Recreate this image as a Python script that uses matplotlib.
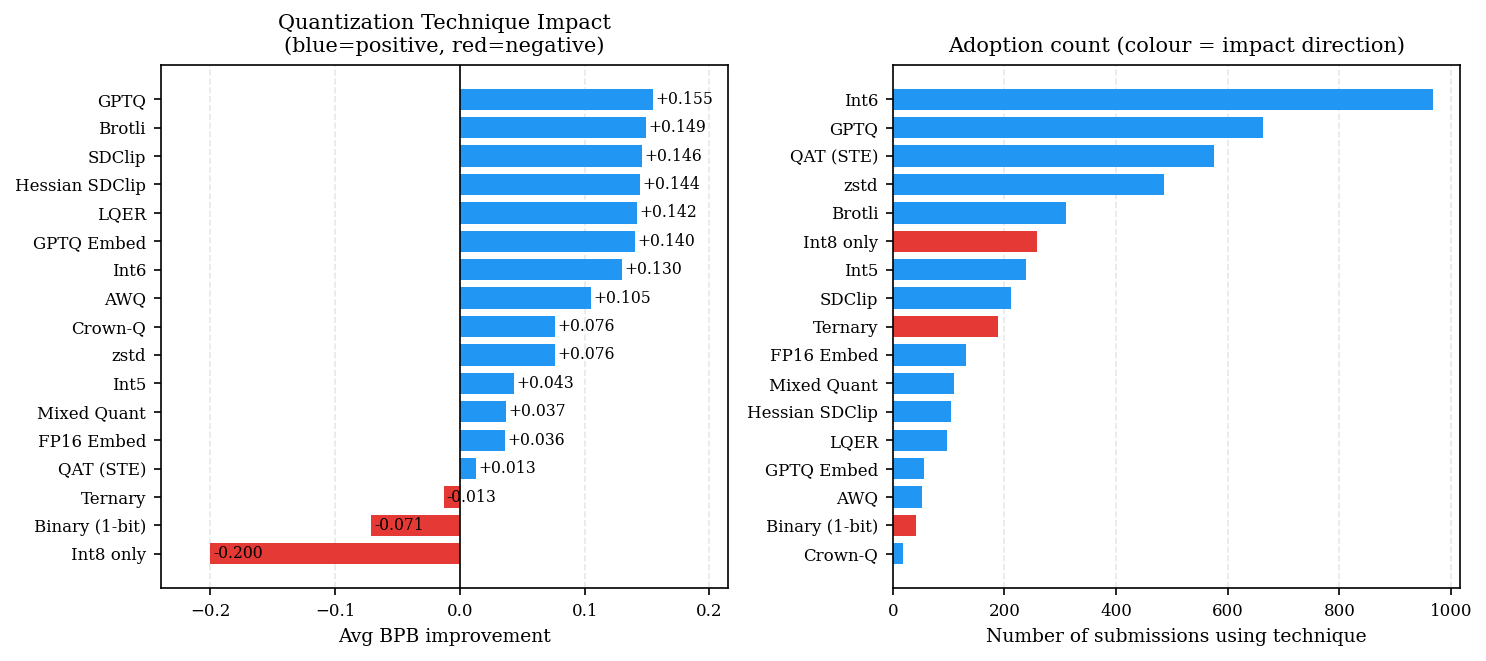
import numpy as np
import matplotlib
matplotlib.use("Agg")
import matplotlib.pyplot as plt

plt.rcParams.update({
    "font.family": "serif",
    "font.serif": ["DejaVu Serif"],
    "font.size": 8,
    "axes.titlesize": 10,
    "axes.labelsize": 9,
    "xtick.labelsize": 8,
    "ytick.labelsize": 8,
})

BLUE = "#2196F3"
RED = "#E53935"

# impact (avg BPB improvement), bottom -> top
impact_names = ["Int8 only", "Binary (1-bit)", "Ternary", "QAT (STE)", "FP16 Embed",
                "Mixed Quant", "Int5", "zstd", "Crown-Q", "AWQ", "Int6", "GPTQ Embed",
                "LQER", "Hessian SDClip", "SDClip", "Brotli", "GPTQ"]
impact_vals = [-0.200, -0.071, -0.013, 0.013, 0.036, 0.037, 0.043, 0.076, 0.076,
               0.105, 0.130, 0.140, 0.142, 0.144, 0.146, 0.149, 0.155]

# adoption count, bottom -> top
count_names = ["Crown-Q", "Binary (1-bit)", "AWQ", "GPTQ Embed", "LQER", "Hessian SDClip",
               "Mixed Quant", "FP16 Embed", "Ternary", "SDClip", "Int5", "Int8 only",
               "Brotli", "zstd", "QAT (STE)", "GPTQ", "Int6"]
count_vals = [18, 41, 53, 56, 97, 104, 110, 131, 189, 212, 239, 259, 311, 486, 575, 664, 968]

impact_lookup = dict(zip(impact_names, impact_vals))

fig, axs = plt.subplots(1, 2, figsize=(14.87 / 1.5, 6.61 / 1.5), dpi=150)

# --- impact ---
ax = axs[0]
y = np.arange(len(impact_names))
cols = [BLUE if v > 0 else RED for v in impact_vals]
ax.barh(y, impact_vals, color=cols, height=0.75)
ax.axvline(0, color="black", linewidth=0.8)
for yi, v in zip(y, impact_vals):
    ax.text(v + 0.002, yi, f"{v:+.3f}" if v > 0 else f"{v:.3f}",
            va="center", ha="left", fontsize=7.5)
ax.set_yticks(y)
ax.set_yticklabels(impact_names)
ax.set_xlim(min(impact_vals) - 0.04, max(impact_vals) + 0.06)
ax.set_xlabel("Avg BPB improvement")
ax.set_title("Quantization Technique Impact\n(blue=positive, red=negative)")
ax.grid(axis="x", linestyle="--", alpha=0.3)
ax.set_axisbelow(True)

# --- adoption ---
ax = axs[1]
y = np.arange(len(count_names))
cols = [BLUE if impact_lookup[n] > 0 else RED for n in count_names]
ax.barh(y, count_vals, color=cols, height=0.75)
ax.set_yticks(y)
ax.set_yticklabels(count_names)
ax.set_xlabel("Number of submissions using technique")
ax.set_title("Adoption count (colour = impact direction)")
ax.grid(axis="x", linestyle="--", alpha=0.3)
ax.set_axisbelow(True)

plt.subplots_adjust(left=0.108, right=0.982, top=0.902, bottom=0.11, wspace=0.29)
plt.savefig("out.png", dpi=150)
